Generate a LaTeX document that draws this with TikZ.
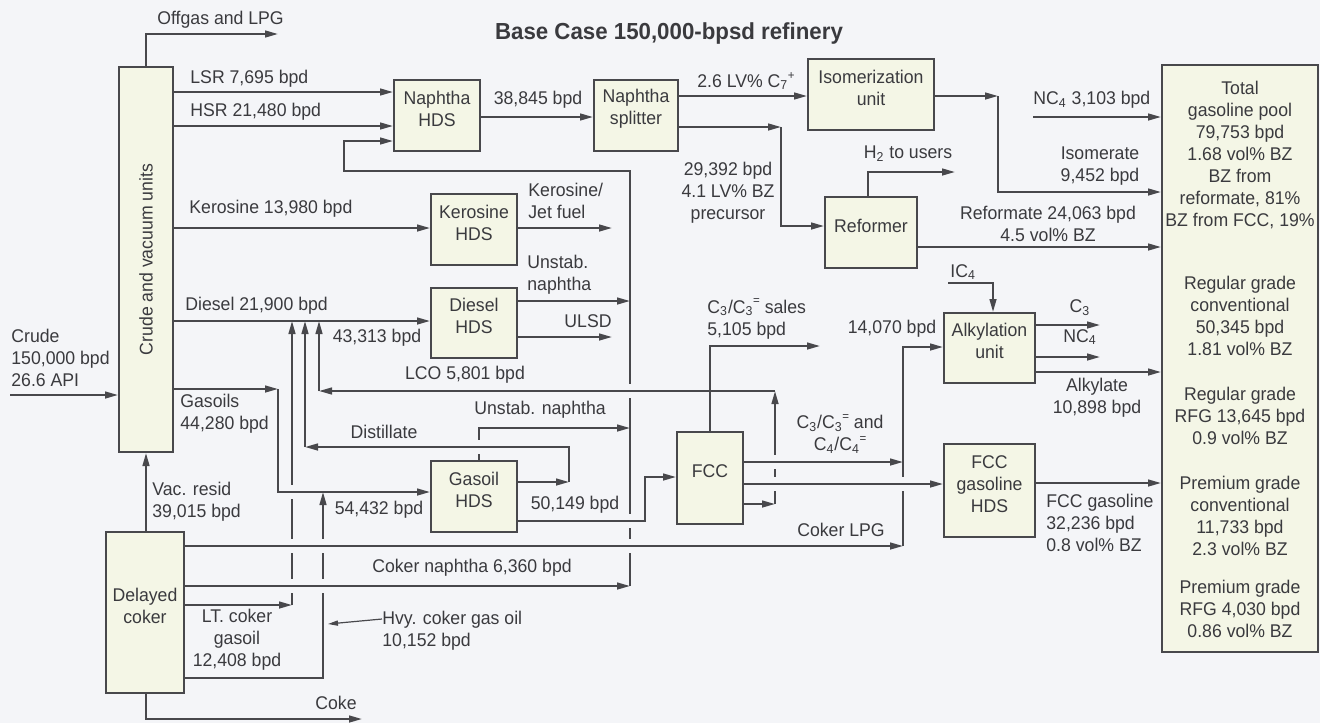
\documentclass[tikz,border=0pt]{standalone}
\usepackage{fontspec}
\setmainfont{Liberation Sans}[FakeStretch=0.96]
\usetikzlibrary{arrows.meta,fit}
\definecolor{bg}{RGB}{244,245,248}
\definecolor{boxfill}{RGB}{244,246,230}
\definecolor{ln}{RGB}{72,72,76}
\definecolor{txt}{RGB}{58,58,62}
\newcommand{\dfont}{\fontsize{9.2}{11}\selectfont}
\newcommand{\cs}[2]{\textsubscript{#1}\kern-0.2pt\raisebox{0.85ex}{\fontsize{6}{6}\selectfont #2}}
\newcommand{\lnhop}[2]{\fill[bg] ({#1-3},{#2-7}) rectangle ({#1+3},{#2+7}); \draw[ln] ({#1-4},#2) -- ({#1+4},#2);}
\begin{document}
\begin{tikzpicture}[x=0.5pt,y=-0.5pt,
  ln/.style={draw=ln, line width=1pt},
  arr/.style={ln, -{Triangle[length=6.5pt,width=3.4pt]}},
  box/.style={draw=ln, fill=boxfill, line width=1pt, inner sep=0pt, align=center, text=txt, font=\dfont},
  lbl/.style={text=txt, font=\dfont, inner sep=0pt, align=center},
  ]
\fill[bg] (0,0) rectangle (1320,723);
\useasboundingbox (0,0) rectangle (1320,723);

% boxes
\node[box, fit={(119,67) (173,452)}] (crude) {};
\node[lbl, rotate=90] (crudet) at (crude.center) {Crude and vacuum units};
\node[box, fit={(106,532) (184,693)}] (coker) {Delayed\\coker};
\node[box, fit={(394,80) (480,151)}] (nhds) {Naphtha\\HDS};
\node[box, fit={(594,80) (678,151)}] (split) {Naphtha\\splitter};
\node[box, fit={(808,59) (934,130)}] (iso) {Isomerization\\unit};
\node[box, fit={(431,194) (517,265)}] (kero) {Kerosine\\HDS};
\node[box, fit={(431,288) (517,358)}] (dhds) {Diesel\\HDS};
\node[box, fit={(431,461) (517,532)}] (ghds) {Gasoil\\HDS};
\node[box, fit={(677,432) (743,524)}] (fcc) {FCC};
\node[box, fit={(825,197) (917,268)}] (ref) {Reformer};
\node[box, fit={(944,313) (1035,383)}] (alk) {Alkylation\\unit};
\node[box, fit={(944,444) (1035,537)}] (fgh) {FCC\\gasoline\\HDS};
\node[box, fit={(1162,65) (1318,652)}] (pool) {};

\node[lbl] (p1) at (1240,155) {Total\\gasoline pool\\79,753 bpd\\1.68 vol\% BZ\\BZ from\\reformate, 81\%\\BZ from FCC, 19\%};
\node[lbl] (p2) at (1240,316) {Regular grade\\conventional\\50,345 bpd\\1.81 vol\% BZ};
\node[lbl] (p3) at (1240,416) {Regular grade\\RFG 13,645 bpd\\0.9 vol\% BZ};
\node[lbl] (p4) at (1240,516) {Premium grade\\conventional\\11,733 bpd\\2.3 vol\% BZ};
\node[lbl] (p5) at (1240,609) {Premium grade\\RFG 4,030 bpd\\0.86 vol\% BZ};

% free ends
\coordinate (offEnd) at (278,34);
\coordinate (jetEnd) at (612,228);
\coordinate (ulsdEnd) at (612,337);
\coordinate (h2End) at (955,172);
\coordinate (c3End) at (1100,325);
\coordinate (nc4End) at (1100,357);
\coordinate (salesEnd) at (820,346);
\coordinate (cokeEnd) at (362,719);
\coordinate (crudeIn) at (10,395);
\coordinate (nc4In) at (1033,117);
\coordinate (ic4In) at (948,283);
\coordinate (col) at (630,586);

% connectors
\draw[arr] (crude.north -| 146,0) -- (146,34) -- (offEnd);
\draw[arr] (crude.east |- 0,92) -- (nhds.west |- 0,92);
\draw[arr] (crude.east |- 0,126) -- (nhds.west |- 0,126);
\draw[arr] (col) -- (630,171) -- (344,171) -- (344,141) -- (nhds.west |- 0,141);
\draw[arr] (crude.east |- 0,228) -- (kero.west |- 0,228);
\draw[arr] (kero.east |- 0,228) -- (jetEnd);
\draw[arr] (crude.east |- 0,321) -- (dhds.west |- 0,321);
\draw[arr] (dhds.east |- 0,301) -- (630,301);
\draw[arr] (dhds.east |- 0,337) -- (ulsdEnd);
\draw[arr] (nhds.east |- 0,117) -- (split.west |- 0,117);
\draw[arr] (split.east |- 0,96) -- (iso.west |- 0,96);
\draw[arr] (split.east |- 0,127) -- (781,127);
\draw[arr] (781,127) -- (781,226) -- (ref.west |- 0,226);
\draw[arr] (ref.north -| 868,0) -- (868,172) -- (h2End);
\draw[arr] (iso.east |- 0,96) -- (998,96);
\draw[arr] (998,96) -- (998,192) -- (pool.west |- 0,192);
\draw[arr] (nc4In) -- (pool.west |- 0,117);
\draw[arr] (ref.east |- 0,247) -- (pool.west |- 0,247);
\draw[arr] (ic4In) -- (993,283) -- (alk.north -| 993,0);
\draw[arr] (alk.east |- 0,325) -- (c3End);
\draw[arr] (alk.east |- 0,357) -- (nc4End);
\draw[arr] (alk.east |- 0,372) -- (pool.west |- 0,372);
\draw[arr] (fgh.east |- 0,483) -- (pool.west |- 0,483);
\draw[arr] (fcc.north -| 710,0) -- (710,346) -- (salesEnd);
\draw[arr] (coker.east |- 0,546) -- (903,546);
\draw[arr] (903,546) -- (903,347) -- (alk.west |- 0,347);
\draw[arr] (fcc.east |- 0,462) -- (903,462);
\draw[arr] (fcc.east |- 0,484) -- (fgh.west |- 0,484);
\draw[arr] (fcc.east |- 0,504) -- (775,504);
\draw[arr] (775,504) -- (775,391);
\draw[arr] (775,391) -- (319,391);
\draw[arr] (319,391) -- (319,321);
\draw[arr] (ghds.east |- 0,482) -- (569,482);
\draw[arr] (569,482) -- (569,447) -- (305,447);
\draw[arr] (305,447) -- (305,321);
\draw[arr] (ghds.north -| 479,0) -- (479,428) -- (630,428);
\draw[arr] (ghds.east |- 0,521) -- (645,521) -- (645,477) -- (fcc.west |- 0,477);
\draw[arr] (crude.east |- 0,389) -- (278,389);
\draw[arr] (278,389) -- (278,492) -- (ghds.west |- 0,492);
\draw[arr] (coker.east |- 0,605) -- (292,605);
\draw[arr] (292,605) -- (292,321);
\draw[arr] (coker.east |- 0,678) -- (323,678) -- (323,492);
\draw[arr] (coker.east |- 0,586) -- (col);
\draw[arr] (coker.north -| 146,0) -- (crude.south -| 146,0);
\draw[arr] (coker.south -| 146,0) -- (146,719) -- (cokeEnd);
\draw[arr] (crudeIn) -- (crude.west |- 0,395);

% line hops
\lnhop{292}{492} \lnhop{292}{546} \lnhop{292}{586}
\lnhop{323}{546} \lnhop{323}{586}
\lnhop{630}{391} \lnhop{630}{521} \lnhop{630}{546}
\lnhop{775}{462} \lnhop{775}{484}
\lnhop{903}{484}
\lnhop{479}{447}

% labels
\node[lbl, font=\bfseries\fontsize{11.6}{14}\selectfont] (title) at (669,33) {Base Case 150,000-bpsd refinery};
\node[lbl, anchor=west] (tOff) at (157,20) {Offgas and LPG};
\node[lbl, anchor=west] (tLSR) at (190,79) {LSR 7,695 bpd};
\node[lbl, anchor=west] (tHSR) at (190,112) {HSR 21,480 bpd};
\node[lbl, anchor=west] (tKer) at (189,209) {Kerosine 13,980 bpd};
\node[lbl, anchor=west] (tDie) at (185,306) {Diesel 21,900 bpd};
\node[lbl, anchor=west, align=left] (tCrude) at (11,358) {Crude\\150,000 bpd\\26.6 API};
\node[lbl, anchor=west, align=left] (tGas) at (180,414) {Gasoils\\44,280 bpd};
\node[lbl, anchor=west, align=left] (tVac) at (152,502) {Vac. resid\\39,015 bpd};
\node[lbl] (tLT) at (237,640) {LT. coker\\gasoil\\12,408 bpd};
\node[lbl, anchor=west, align=left] (tHvy) at (382,631) {Hvy. coker gas oil\\10,152 bpd};
\draw[ln, line width=0.6pt, -{Triangle[length=5pt,width=2.6pt]}] (tHvy.west |- 0,619) -- (328,624);
\node[lbl, anchor=west] (tCoke) at (315,703) {Coke};
\node[lbl] (tCN) at (472,568) {Coker naphtha 6,360 bpd};
\node[lbl] (t544) at (379,510) {54,432 bpd};
\node[lbl] (t501) at (575,505) {50,149 bpd};
\node[lbl] (tDist) at (384,432) {Distillate};
\node[lbl, anchor=west] (tUn2) at (474,410) {Unstab. naphtha};
\node[lbl] (tLCO) at (465,375) {LCO 5,801 bpd};
\node[lbl] (t433) at (377,338) {43,313 bpd};
\node[lbl, anchor=west, align=left] (tUn1) at (527,275) {Unstab.\\naphtha};
\node[lbl] (tULSD) at (588,321) {ULSD};
\node[lbl, anchor=west, align=left] (tJet) at (528,201) {Kerosine/\\Jet fuel};
\node[lbl] (t388) at (538,100) {38,845 bpd};
\node[lbl] (tC7) at (746,81) {2.6 LV\% C\cs{7}{+}};
\node[lbl] (t293) at (728,193) {29,392 bpd\\4.1 LV\% BZ\\precursor};
\node[lbl] (tH2) at (908,154) {H\textsubscript{2} to users};
\node[lbl, anchor=west] (tNC4a) at (1033,100) {NC\textsubscript{4} 3,103 bpd};
\node[lbl] (tIsom) at (1100,166) {Isomerate\\9,452 bpd};
\node[lbl] (tRef) at (1048,224) {Reformate 24,063 bpd\\4.5 vol\% BZ};
\node[lbl, anchor=west, align=left] (tSales) at (707,319) {C\textsubscript{3}/C\cs{3}{=} sales\\5,105 bpd};
\node[lbl] (t140) at (892,329) {14,070 bpd};
\node[lbl, anchor=west] (tIC4) at (950,272) {IC\textsubscript{4}};
\node[lbl] (tC3) at (1080,308) {C\textsubscript{3}};
\node[lbl] (tNC4b) at (1080,337) {NC\textsubscript{4}};
\node[lbl] (tAlk) at (1097,398) {Alkylate\\10,898 bpd};
\node[lbl] (tC34) at (840,434) {C\textsubscript{3}/C\cs{3}{=} and\\C\textsubscript{4}/C\cs{4}{=}};
\node[lbl] (tCLPG) at (841,530) {Coker LPG};
\node[lbl, anchor=west, align=left] (tFCCg) at (1046,523) {FCC gasoline\\32,236 bpd\\0.8 vol\% BZ};
\end{tikzpicture}
\end{document}
